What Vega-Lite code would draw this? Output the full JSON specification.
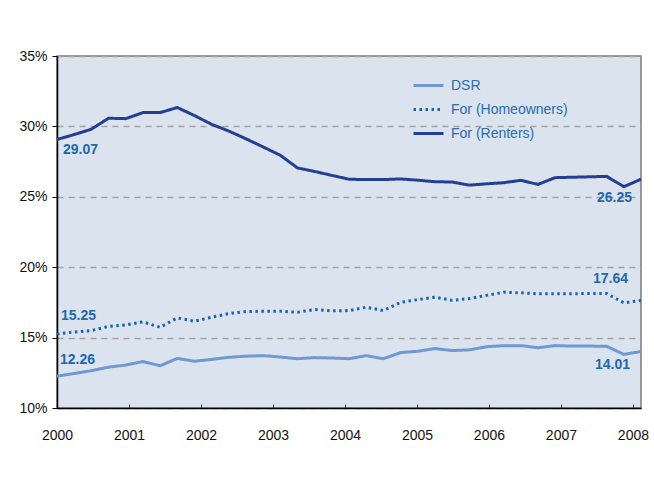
{
  "$schema": "https://vega.github.io/schema/vega-lite/v6.json",
  "width": 584,
  "height": 352,
  "autosize": {"type": "none"},
  "padding": {"left": 57, "top": 56, "right": 13, "bottom": 90},
  "background": "white",
  "config": {
    "font": "Liberation Sans",
    "view": {"fill": "#dbe3ef", "stroke": "#7a7a7a", "strokeWidth": 1.5}
  },
  "data": {"values": [
    {"t": 2000.000, "s": "DSR", "v": 12.26}, {"t": 2000.000, "s": "For (Homeowners)", "v": 15.25}, {"t": 2000.000, "s": "For (Renters)", "v": 29.07},
    {"t": 2000.239, "s": "DSR", "v": 12.45}, {"t": 2000.239, "s": "For (Homeowners)", "v": 15.40}, {"t": 2000.239, "s": "For (Renters)", "v": 29.42},
    {"t": 2000.477, "s": "DSR", "v": 12.65}, {"t": 2000.477, "s": "For (Homeowners)", "v": 15.50}, {"t": 2000.477, "s": "For (Renters)", "v": 29.80},
    {"t": 2000.716, "s": "DSR", "v": 12.90}, {"t": 2000.716, "s": "For (Homeowners)", "v": 15.80}, {"t": 2000.716, "s": "For (Renters)", "v": 30.58},
    {"t": 2000.954, "s": "DSR", "v": 13.05}, {"t": 2000.954, "s": "For (Homeowners)", "v": 15.90}, {"t": 2000.954, "s": "For (Renters)", "v": 30.55},
    {"t": 2001.193, "s": "DSR", "v": 13.30}, {"t": 2001.193, "s": "For (Homeowners)", "v": 16.12}, {"t": 2001.193, "s": "For (Renters)", "v": 30.98},
    {"t": 2001.432, "s": "DSR", "v": 13.00}, {"t": 2001.432, "s": "For (Homeowners)", "v": 15.73}, {"t": 2001.432, "s": "For (Renters)", "v": 30.98},
    {"t": 2001.670, "s": "DSR", "v": 13.52}, {"t": 2001.670, "s": "For (Homeowners)", "v": 16.40}, {"t": 2001.670, "s": "For (Renters)", "v": 31.34},
    {"t": 2001.909, "s": "DSR", "v": 13.32}, {"t": 2001.909, "s": "For (Homeowners)", "v": 16.16}, {"t": 2001.909, "s": "For (Renters)", "v": 30.77},
    {"t": 2002.147, "s": "DSR", "v": 13.45}, {"t": 2002.147, "s": "For (Homeowners)", "v": 16.45}, {"t": 2002.147, "s": "For (Renters)", "v": 30.15},
    {"t": 2002.386, "s": "DSR", "v": 13.60}, {"t": 2002.386, "s": "For (Homeowners)", "v": 16.70}, {"t": 2002.386, "s": "For (Renters)", "v": 29.67},
    {"t": 2002.625, "s": "DSR", "v": 13.68}, {"t": 2002.625, "s": "For (Homeowners)", "v": 16.85}, {"t": 2002.625, "s": "For (Renters)", "v": 29.12},
    {"t": 2002.863, "s": "DSR", "v": 13.72}, {"t": 2002.863, "s": "For (Homeowners)", "v": 16.87}, {"t": 2002.863, "s": "For (Renters)", "v": 28.54},
    {"t": 2003.102, "s": "DSR", "v": 13.62}, {"t": 2003.102, "s": "For (Homeowners)", "v": 16.87}, {"t": 2003.102, "s": "For (Renters)", "v": 27.95},
    {"t": 2003.340, "s": "DSR", "v": 13.50}, {"t": 2003.340, "s": "For (Homeowners)", "v": 16.80}, {"t": 2003.340, "s": "For (Renters)", "v": 27.05},
    {"t": 2003.579, "s": "DSR", "v": 13.58}, {"t": 2003.579, "s": "For (Homeowners)", "v": 16.99}, {"t": 2003.579, "s": "For (Renters)", "v": 26.80},
    {"t": 2003.818, "s": "DSR", "v": 13.55}, {"t": 2003.818, "s": "For (Homeowners)", "v": 16.90}, {"t": 2003.818, "s": "For (Renters)", "v": 26.52},
    {"t": 2004.056, "s": "DSR", "v": 13.50}, {"t": 2004.056, "s": "For (Homeowners)", "v": 16.92}, {"t": 2004.056, "s": "For (Renters)", "v": 26.25},
    {"t": 2004.295, "s": "DSR", "v": 13.72}, {"t": 2004.295, "s": "For (Homeowners)", "v": 17.16}, {"t": 2004.295, "s": "For (Renters)", "v": 26.22},
    {"t": 2004.533, "s": "DSR", "v": 13.50}, {"t": 2004.533, "s": "For (Homeowners)", "v": 16.92}, {"t": 2004.533, "s": "For (Renters)", "v": 26.22},
    {"t": 2004.772, "s": "DSR", "v": 13.93}, {"t": 2004.772, "s": "For (Homeowners)", "v": 17.50}, {"t": 2004.772, "s": "For (Renters)", "v": 26.27},
    {"t": 2005.011, "s": "DSR", "v": 14.03}, {"t": 2005.011, "s": "For (Homeowners)", "v": 17.70}, {"t": 2005.011, "s": "For (Renters)", "v": 26.18},
    {"t": 2005.249, "s": "DSR", "v": 14.22}, {"t": 2005.249, "s": "For (Homeowners)", "v": 17.87}, {"t": 2005.249, "s": "For (Renters)", "v": 26.07},
    {"t": 2005.488, "s": "DSR", "v": 14.08}, {"t": 2005.488, "s": "For (Homeowners)", "v": 17.65}, {"t": 2005.488, "s": "For (Renters)", "v": 26.05},
    {"t": 2005.726, "s": "DSR", "v": 14.13}, {"t": 2005.726, "s": "For (Homeowners)", "v": 17.77}, {"t": 2005.726, "s": "For (Renters)", "v": 25.83},
    {"t": 2005.965, "s": "DSR", "v": 14.35}, {"t": 2005.965, "s": "For (Homeowners)", "v": 18.00}, {"t": 2005.965, "s": "For (Renters)", "v": 25.92},
    {"t": 2006.204, "s": "DSR", "v": 14.43}, {"t": 2006.204, "s": "For (Homeowners)", "v": 18.22}, {"t": 2006.204, "s": "For (Renters)", "v": 26.00},
    {"t": 2006.442, "s": "DSR", "v": 14.43}, {"t": 2006.442, "s": "For (Homeowners)", "v": 18.18}, {"t": 2006.442, "s": "For (Renters)", "v": 26.17},
    {"t": 2006.681, "s": "DSR", "v": 14.28}, {"t": 2006.681, "s": "For (Homeowners)", "v": 18.11}, {"t": 2006.681, "s": "For (Renters)", "v": 25.88},
    {"t": 2006.919, "s": "DSR", "v": 14.43}, {"t": 2006.919, "s": "For (Homeowners)", "v": 18.12}, {"t": 2006.919, "s": "For (Renters)", "v": 26.36},
    {"t": 2007.158, "s": "DSR", "v": 14.40}, {"t": 2007.158, "s": "For (Homeowners)", "v": 18.12}, {"t": 2007.158, "s": "For (Renters)", "v": 26.39},
    {"t": 2007.397, "s": "DSR", "v": 14.40}, {"t": 2007.397, "s": "For (Homeowners)", "v": 18.13}, {"t": 2007.397, "s": "For (Renters)", "v": 26.42},
    {"t": 2007.635, "s": "DSR", "v": 14.38}, {"t": 2007.635, "s": "For (Homeowners)", "v": 18.13}, {"t": 2007.635, "s": "For (Renters)", "v": 26.45},
    {"t": 2007.874, "s": "DSR", "v": 13.81}, {"t": 2007.874, "s": "For (Homeowners)", "v": 17.47}, {"t": 2007.874, "s": "For (Renters)", "v": 25.72},
    {"t": 2008.112, "s": "DSR", "v": 14.01}, {"t": 2008.112, "s": "For (Homeowners)", "v": 17.64}, {"t": 2008.112, "s": "For (Renters)", "v": 26.25}
  ]},
  "encoding": {
    "x": {
      "field": "t", "type": "quantitative",
      "scale": {"domain": [2000, 2008.112], "nice": false, "zero": false},
      "axis": {
        "title": null, "values": [2000, 2001, 2002, 2003, 2004, 2005, 2006, 2007, 2008],
        "format": "d", "grid": false, "domainColor": "#000000", "domainWidth": 1.5,
        "tickColor": "#333333", "tickSize": -4, "labelPadding": 24,
        "labelFontSize": 14, "labelColor": "#111111", "labelFlush": false
      }
    },
    "y": {
      "field": "v", "type": "quantitative",
      "scale": {"domain": [10, 35], "nice": false, "zero": false},
      "axis": {
        "title": null, "values": [10, 15, 20, 25, 30, 35],
        "labelExpr": "datum.value + '%'", "domainColor": "#000000", "domainWidth": 1.5,
        "tickColor": "#000000", "tickSize": 5, "labelPadding": 5,
        "labelFontSize": 14, "labelColor": "#111111",
        "gridColor": "#a3a3a3", "gridDash": [6, 5], "gridWidth": 1.5
      }
    }
  },
  "layer": [
    {
      "mark": {"type": "line", "strokeWidth": 3},
      "encoding": {
        "color": {
          "field": "s", "type": "nominal",
          "scale": {"domain": ["DSR", "For (Homeowners)", "For (Renters)"], "range": ["#6f99cf", "#1a64ab", "#243f92"]},
          "legend": {
            "title": null, "orient": "none", "legendX": 355, "legendY": 13,
            "symbolType": "stroke", "symbolSize": 900, "symbolStrokeWidth": 3,
            "labelFontSize": 14, "labelColor": "#2a6cae", "labelOffset": 6,
            "rowPadding": 0
          }
        },
        "strokeDash": {
          "field": "s", "type": "nominal",
          "scale": {"domain": ["DSR", "For (Homeowners)", "For (Renters)"], "range": [[1, 0], [2.5, 3.5], [1, 0]]},
          "legend": null
        }
      }
    },
    {
      "transform": [{"filter": "datum.s == 'For (Renters)' && datum.t == 2000"}],
      "mark": {"type": "text", "align": "left", "dx": 6, "dy": 11, "fontSize": 14, "fontWeight": "bold", "color": "#1f68ad"},
      "encoding": {"text": {"field": "v", "type": "quantitative", "format": ".2f"}}
    },
    {
      "transform": [{"filter": "datum.s == 'For (Homeowners)' && datum.t == 2000"}],
      "mark": {"type": "text", "align": "left", "dx": 4, "dy": -18, "fontSize": 14, "fontWeight": "bold", "color": "#1f68ad"},
      "encoding": {"text": {"field": "v", "type": "quantitative", "format": ".2f"}}
    },
    {
      "transform": [{"filter": "datum.s == 'DSR' && datum.t == 2000"}],
      "mark": {"type": "text", "align": "left", "dx": 3, "dy": -16, "fontSize": 14, "fontWeight": "bold", "color": "#1f68ad"},
      "encoding": {"text": {"field": "v", "type": "quantitative", "format": ".2f"}}
    },
    {
      "transform": [{"filter": "datum.s == 'For (Renters)' && datum.t > 2008"}],
      "mark": {"type": "text", "align": "right", "dx": -9, "dy": 19, "fontSize": 14, "fontWeight": "bold", "color": "#1f68ad"},
      "encoding": {"text": {"field": "v", "type": "quantitative", "format": ".2f"}}
    },
    {
      "transform": [{"filter": "datum.s == 'For (Homeowners)' && datum.t > 2008"}],
      "mark": {"type": "text", "align": "right", "dx": -13, "dy": -21, "fontSize": 14, "fontWeight": "bold", "color": "#1f68ad"},
      "encoding": {"text": {"field": "v", "type": "quantitative", "format": ".2f"}}
    },
    {
      "transform": [{"filter": "datum.s == 'DSR' && datum.t > 2008"}],
      "mark": {"type": "text", "align": "right", "dx": -11, "dy": 13, "fontSize": 14, "fontWeight": "bold", "color": "#1f68ad"},
      "encoding": {"text": {"field": "v", "type": "quantitative", "format": ".2f"}}
    }
  ]
}
